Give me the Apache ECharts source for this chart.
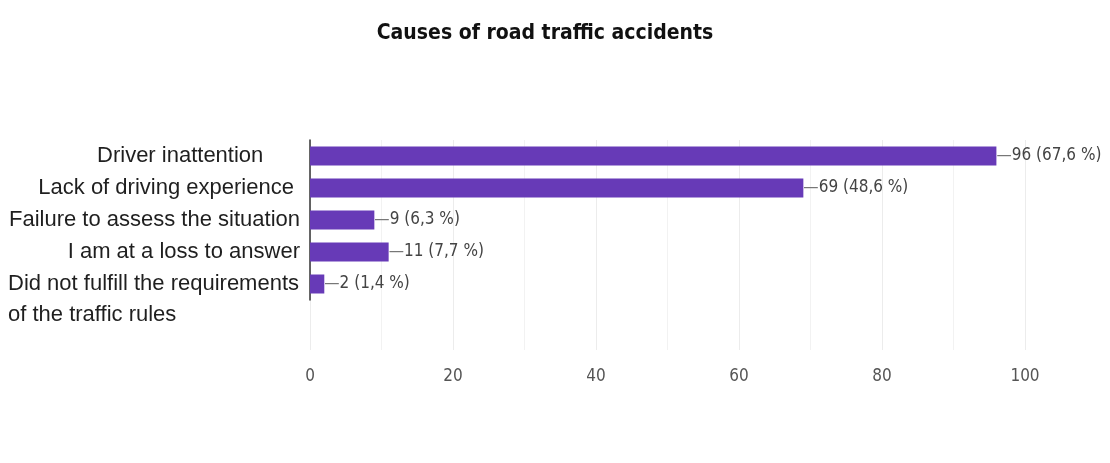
<!DOCTYPE html>
<html>
<head>
<meta charset="utf-8">
<script src="https://cdn.jsdelivr.net/npm/echarts@6/dist/echarts.min.js"></script>
<style>
  html, body { margin: 0; padding: 0; background: #fff; }
  #chart { width: 1110px; height: 463px; }
</style>
</head>
<body>
<div id="chart"></div>
<script>
// Survey answers (trailing spaces are part of the answer text as entered)
const causes = [
  'Driver inattention      ',
  'Lack of driving experience ',
  'Failure to assess the situation',
  'I am at a loss to answer',
  'Did not fulfill the requirements\nof the traffic rules'
];
const answerCounts = [96, 69, 9, 11, 2];
const answerPercents = [67.6, 48.6, 6.3, 7.7, 1.4];
const axisTicks = [0, 20, 40, 60, 80, 100];

const PURPLE = '#673ab7';
const GRID_COLOR = '#ececec';
const LABEL_FONT = '"Liberation Sans", Arial, sans-serif';
const NARROW_FONT = '"DejaVu Sans Condensed", "Liberation Sans Narrow", sans-serif';

const chart = echarts.init(document.getElementById('chart'), null, { renderer: 'canvas' });

const xBase = {
  type: 'value',
  min: axisTicks[0],
  max: axisTicks[axisTicks.length - 1],
  interval: axisTicks[1] - axisTicks[0],
  axisLine: { show: false },
  axisTick: { show: false },
  splitLine: { show: true, lineStyle: { color: GRID_COLOR, width: 1 } },
  minorTick: { show: false, splitNumber: 2 },
  minorSplitLine: { show: true, lineStyle: { color: '#f2f2f2', width: 1 } }
};

chart.setOption({
  animation: false,
  backgroundColor: '#ffffff',
  title: {
    text: 'Causes of road traffic accidents',
    left: 540,
    top: 18,
    textAlign: 'center',
    textStyle: {
      fontFamily: NARROW_FONT,
      fontWeight: 'bold',
      fontSize: 21,
      color: '#111'
    }
  },
  grid: [
    { left: 310, right: 85, top: 140, height: 160 },
    { left: 310, right: 85, top: 300, height: 50 }
  ],
  xAxis: [
    Object.assign({}, xBase, { gridIndex: 0, axisLabel: { show: false } }),
    Object.assign({}, xBase, {
      gridIndex: 1,
      axisLabel: {
        show: true,
        margin: 18,
        fontFamily: NARROW_FONT,
        fontSize: 17,
        color: '#555'
      }
    })
  ],
  yAxis: [
    {
      type: 'category',
      gridIndex: 0,
      inverse: true,
      data: causes,
      axisLine: { show: true, lineStyle: { color: '#333', width: 1.5 } },
      axisTick: { show: false },
      splitLine: { show: false },
      axisLabel: {
        interval: 0,
        hideOverlap: false,
        margin: 10,
        fontFamily: LABEL_FONT,
        fontSize: 22,
        color: '#1f1f1f',
        lineHeight: 31,
        formatter: function (name) {
          if (name.indexOf('\n') < 0) return name;
          // wrapped answer: lines flush left, first line level with its bar
          const lines = name.split('\n').map(function (s) { return '{w|' + s + '}'; });
          return '{w| }\n' + lines.join('\n');
        },
        rich: {
          w: {
            width: 292,
            align: 'left',
            fontFamily: LABEL_FONT,
            fontSize: 22,
            color: '#1f1f1f',
            lineHeight: 31
          }
        }
      }
    },
    {
      type: 'value',
      gridIndex: 1,
      show: false
    }
  ],
  series: [
    {
      type: 'bar',
      xAxisIndex: 0,
      yAxisIndex: 0,
      data: answerCounts,
      barWidth: 19,
      itemStyle: { color: PURPLE },
      label: {
        show: true,
        position: 'right',
        distance: 0,
        formatter: function (p) {
          const pct = answerPercents[p.dataIndex].toFixed(1).replace('.', ',');
          return '{d|—}{t|' + p.value + ' (' + pct + ' %)}';
        },
        rich: {
          d: { fontFamily: NARROW_FONT, fontSize: 17, color: '#777' },
          t: { fontFamily: NARROW_FONT, fontSize: 17, color: '#444' }
        }
      }
    }
  ]
});
</script>
</body>
</html>
